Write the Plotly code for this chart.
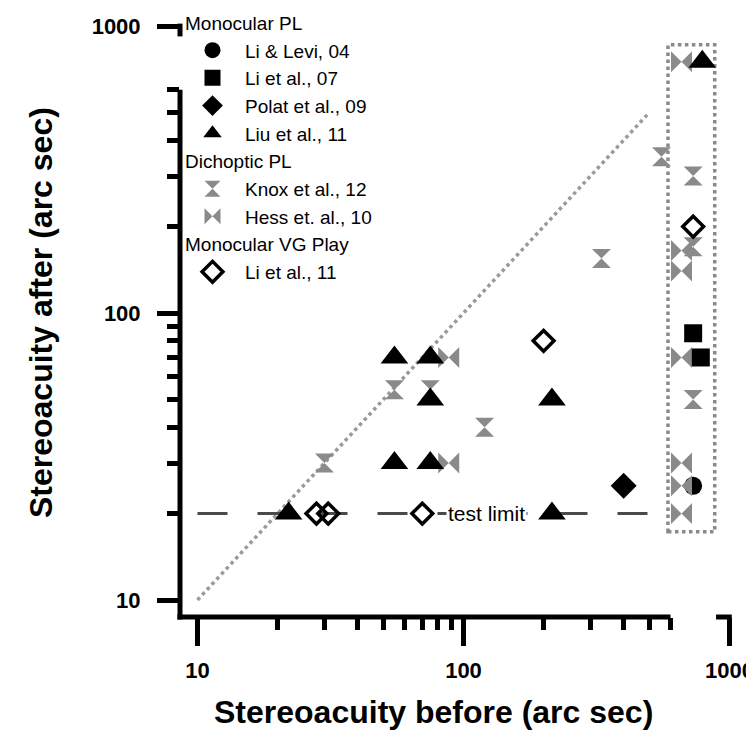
import numpy as np
import plotly.graph_objects as go

# ---------------- data ----------------
li_levi_x = [730]
li_levi_y = [25]

li07_x = [730, 780]
li07_y = [85, 70]

polat_x = [400]
polat_y = [25]

liu_x = [22, 55, 75, 75, 55, 75, 215, 215, 790]
liu_y = [20, 70, 70, 50, 30, 30, 50, 20, 750]

knox_x = [55, 75, 30, 120, 330, 555, 730, 730, 730]
knox_y = [54, 54, 30, 40, 155, 350, 300, 170, 50]

hess_x = [88, 88, 660, 660, 660, 660, 660, 660, 660]
hess_y = [70, 30, 750, 165, 140, 70, 30, 25, 20]

li11_x = [28, 31, 70, 200, 730]
li11_y = [20, 20, 20, 80, 200]

diag_x = [10, 500]
diag_y = [10, 500]

limit_x = [10, 500]
limit_y = [20, 20]
limit_label = "test limit"
limit_label_x = 122

box_x = [587, 880]
box_y = [17.3, 860]

x_major = [10, 100, 1000]
x_minor = [20, 30, 40, 50, 60, 70, 80, 90, 200, 300, 400, 500, 600]
y_major = [10, 100, 1000]
y_minor = [20, 30, 40, 50, 60, 70, 80, 90, 200, 300, 400, 500, 600]
axis_end = 600

x_title = "Stereoacuity before (arc sec)"
y_title = "Stereoacuity after (arc sec)"

# ---------------- styling ----------------
FONT = "Arial, Liberation Sans, sans-serif"
GRAY = "#8a8a8a"
BLACK = "#000000"

xr = [0.9342, 3.0695]
yr = [0.9408, 3.0279]


def xp(v):
    return (np.log10(v) - xr[0]) / (xr[1] - xr[0])


def yp(v):
    return (np.log10(v) - yr[0]) / (yr[1] - yr[0])


fig = go.Figure()

# reference lines
fig.add_trace(go.Scatter(x=diag_x, y=diag_y, mode="lines", showlegend=False,
                         hoverinfo="skip",
                         line=dict(color="#9a9a9a", width=3.5, dash="dot")))
fig.add_trace(go.Scatter(x=limit_x, y=limit_y, mode="lines", showlegend=False,
                         hoverinfo="skip",
                         line=dict(color="#4a4a4a", width=3, dash="30px,30px")))

# data traces (drawing order), legend ranks control legend order
fig.add_trace(go.Scatter(
    x=li_levi_x, y=li_levi_y, mode="markers", name="Li & Levi, 04",
    legendgroup="mono", legendgrouptitle_text="Monocular PL", legendrank=1,
    marker=dict(symbol="circle", size=18, color=BLACK, line=dict(width=0))))
fig.add_trace(go.Scatter(
    x=knox_x, y=knox_y, mode="markers", name="Knox et al., 12",
    legendgroup="dich", legendgrouptitle_text="Dichoptic PL", legendrank=5,
    marker=dict(symbol="hourglass", size=19, color=GRAY, line=dict(width=0))))
fig.add_trace(go.Scatter(
    x=hess_x, y=hess_y, mode="markers", name="Hess et. al., 10",
    legendgroup="dich", legendrank=6,
    marker=dict(symbol="bowtie", size=21, color=GRAY, line=dict(width=0))))
fig.add_trace(go.Scatter(
    x=li07_x, y=li07_y, mode="markers", name="Li et al., 07",
    legendgroup="mono", legendrank=2,
    marker=dict(symbol="square", size=18, color=BLACK, line=dict(width=0))))
fig.add_trace(go.Scatter(
    x=polat_x, y=polat_y, mode="markers", name="Polat et al., 09",
    legendgroup="mono", legendrank=3,
    marker=dict(symbol="diamond", size=20, color=BLACK, line=dict(width=0))))
fig.add_trace(go.Scatter(
    x=liu_x, y=liu_y, mode="markers", name="Liu et al., 11",
    legendgroup="mono", legendrank=4,
    marker=dict(symbol="triangle-up", size=24, color=BLACK, line=dict(width=0))))
fig.add_trace(go.Scatter(
    x=li11_x, y=li11_y, mode="markers", name="Li et al., 11",
    legendgroup="vg", legendgrouptitle_text="Monocular VG Play", legendrank=7,
    marker=dict(symbol="diamond-open", size=16, color=BLACK,
                line=dict(width=3.5, color=BLACK))))

shapes = [
    dict(type="rect", xref="x", yref="y", x0=box_x[0], x1=box_x[1],
         y0=box_y[0], y1=box_y[1], layer="below",
         line=dict(color="#8a8a8a", width=3.5, dash="dot")),
    dict(type="line", xref="paper", yref="paper", x0=-0.0044, x1=xp(axis_end),
         y0=0, y1=0, line=dict(color=BLACK, width=5)),
    dict(type="line", xref="paper", yref="paper", x0=0, x1=0,
         y0=-0.0042, y1=yp(axis_end), line=dict(color=BLACK, width=5)),
    dict(type="line", xref="paper", yref="paper", x0=0, x1=0,
         y0=yp(920), y1=yp(1000) + 0.004, line=dict(color=BLACK, width=5)),
    dict(type="line", xref="paper", yref="paper", x0=xp(890), x1=xp(1000) + 0.004,
         y0=0, y1=0, line=dict(color=BLACK, width=5)),
]

annotations = [
    dict(x=np.log10(limit_label_x), y=np.log10(limit_y[0]), xref="x", yref="y",
         text=limit_label, showarrow=False, bgcolor="white", borderpad=1,
         font=dict(family=FONT, size=21, color=BLACK)),
    dict(x=0.447, y=-0.158, xref="paper", yref="paper", text=x_title,
         showarrow=False, xanchor="center", yanchor="middle",
         font=dict(family=FONT, size=32, color=BLACK, weight="bold")),
    dict(x=-0.2447, y=0.5075, xref="paper", yref="paper", text=y_title,
         showarrow=False, textangle=-90, xanchor="center", yanchor="middle",
         font=dict(family=FONT, size=32, color=BLACK, weight="bold")),
]

axis_common = dict(
    type="log", showgrid=False, zeroline=False, showline=False,
    ticks="outside", tickwidth=5, tickcolor=BLACK,
    tickfont=dict(family=FONT, size=22, color=BLACK, weight="bold"),
    fixedrange=True, automargin=False,
)

fig.update_layout(
    width=754, height=746,
    margin=dict(l=172, r=14, t=10, b=137, autoexpand=False),
    paper_bgcolor="white", plot_bgcolor="white",
    font=dict(family=FONT, color=BLACK),
    showlegend=True,
    legend=dict(x=0.0, y=1.024, xanchor="left", yanchor="top",
                bgcolor="rgba(0,0,0,0)", borderwidth=0,
                font=dict(family=FONT, size=19, color=BLACK),
                grouptitlefont=dict(family=FONT, size=19, color=BLACK),
                tracegroupgap=0, itemwidth=55, traceorder="grouped"),
    xaxis=dict(range=xr, tickvals=x_major, ticktext=[str(v) for v in x_major],
               ticklen=28, ticklabelstandoff=6,
               minor=dict(tickvals=x_minor, ticks="outside", ticklen=12,
                          tickwidth=5, tickcolor=BLACK, showgrid=False),
               **axis_common),
    yaxis=dict(range=yr, tickvals=y_major, ticktext=[str(v) for v in y_major],
               ticklen=22, ticklabelstandoff=12,
               minor=dict(tickvals=y_minor, ticks="outside", ticklen=12,
                          tickwidth=5, tickcolor=BLACK, showgrid=False),
               **axis_common),
    shapes=shapes,
    annotations=annotations,
)

fig.write_html("out.html")
